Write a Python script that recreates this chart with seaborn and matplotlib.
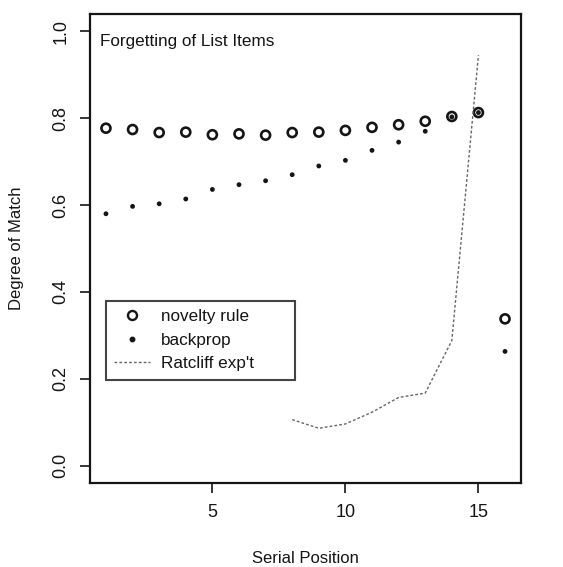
import numpy as np
import pandas as pd
import matplotlib
matplotlib.use('Agg')
import matplotlib.pyplot as plt
import seaborn as sns
from matplotlib.lines import Line2D

# values
positions = list(range(1, 17))
novelty_rule = [0.777, 0.774, 0.767, 0.768, 0.762, 0.764, 0.761, 0.767,
                0.768, 0.772, 0.779, 0.785, 0.793, 0.804, 0.813, 0.338]
backprop = [0.580, 0.597, 0.603, 0.614, 0.636, 0.647, 0.656, 0.670,
            0.690, 0.703, 0.726, 0.745, 0.770, 0.803, 0.813, 0.263]
ratcliff_pos = [8, 9, 10, 11, 12, 13, 14, 15]
ratcliff = [0.106, 0.086, 0.096, 0.123, 0.157, 0.167, 0.288, 0.945]

sns.set_theme(style='ticks')
plt.rcParams['font.family'] = ['Liberation Sans', 'DejaVu Sans']

ink = '#151515'
df_pts = pd.DataFrame({'pos': positions, 'novelty': novelty_rule, 'backprop': backprop})
df_rat = pd.DataFrame({'pos': ratcliff_pos, 'match': ratcliff})

fig = plt.figure(figsize=(5.63, 5.67), dpi=100)
ax = fig.add_axes([90 / 563, (567 - 483) / 567, 431 / 563, 469 / 567])

sns.scatterplot(data=df_pts, x='pos', y='novelty', ax=ax, marker='o', s=42,
                facecolor='none', edgecolor=ink, linewidth=1.9)
sns.scatterplot(data=df_pts, x='pos', y='backprop', ax=ax, marker='o', s=12,
                color=ink, edgecolor='none')
sns.lineplot(data=df_rat, x='pos', y='match', ax=ax, color='#666666',
             linewidth=1.0, linestyle=(0, (2, 1.5)))

ax.set_xlim(0.4, 16.6)
ax.set_ylim(-0.04, 1.04)
ax.set_xticks([5, 10, 15])
ax.set_yticks([0.0, 0.2, 0.4, 0.6, 0.8, 1.0])
ax.set_yticklabels(['0.0', '0.2', '0.4', '0.6', '0.8', '1.0'], rotation=90, va='center')
ax.tick_params(axis='both', direction='out', length=7, width=1.2, labelsize=13,
               color=ink, labelcolor=ink, pad=8)
for sp in ax.spines.values():
    sp.set_visible(True)
    sp.set_linewidth(1.6)
    sp.set_color(ink)

ax.set_xlabel('Serial Position', fontsize=12, color=ink, labelpad=22)
ax.set_ylabel('Degree of Match', fontsize=12, color=ink, labelpad=20)
ax.text(0.024, 0.958, 'Forgetting of List Items', transform=ax.transAxes,
        fontsize=12.3, color=ink, va='top', ha='left')

handles = [
    Line2D([], [], marker='o', linestyle='none', markersize=6.5, markerfacecolor='none',
           markeredgecolor=ink, markeredgewidth=1.7),
    Line2D([], [], marker='o', linestyle='none', markersize=3.2, color=ink),
    Line2D([], [], color='#666666', linewidth=1.0, linestyle=(0, (2, 1.5))),
]
leg = ax.legend(handles, ['novelty rule        ', 'backprop', "Ratcliff exp't"],
                loc='upper left', bbox_to_anchor=(0.037, 0.389), fontsize=12.3,
                frameon=True, fancybox=False, edgecolor=ink,
                handlelength=2.1, handletextpad=0.6, borderpad=0.5,
                labelspacing=0.5, borderaxespad=0)
leg.get_frame().set_linewidth(1.5)
for t in leg.get_texts():
    t.set_color(ink)

fig.savefig('out.png', dpi=100)
